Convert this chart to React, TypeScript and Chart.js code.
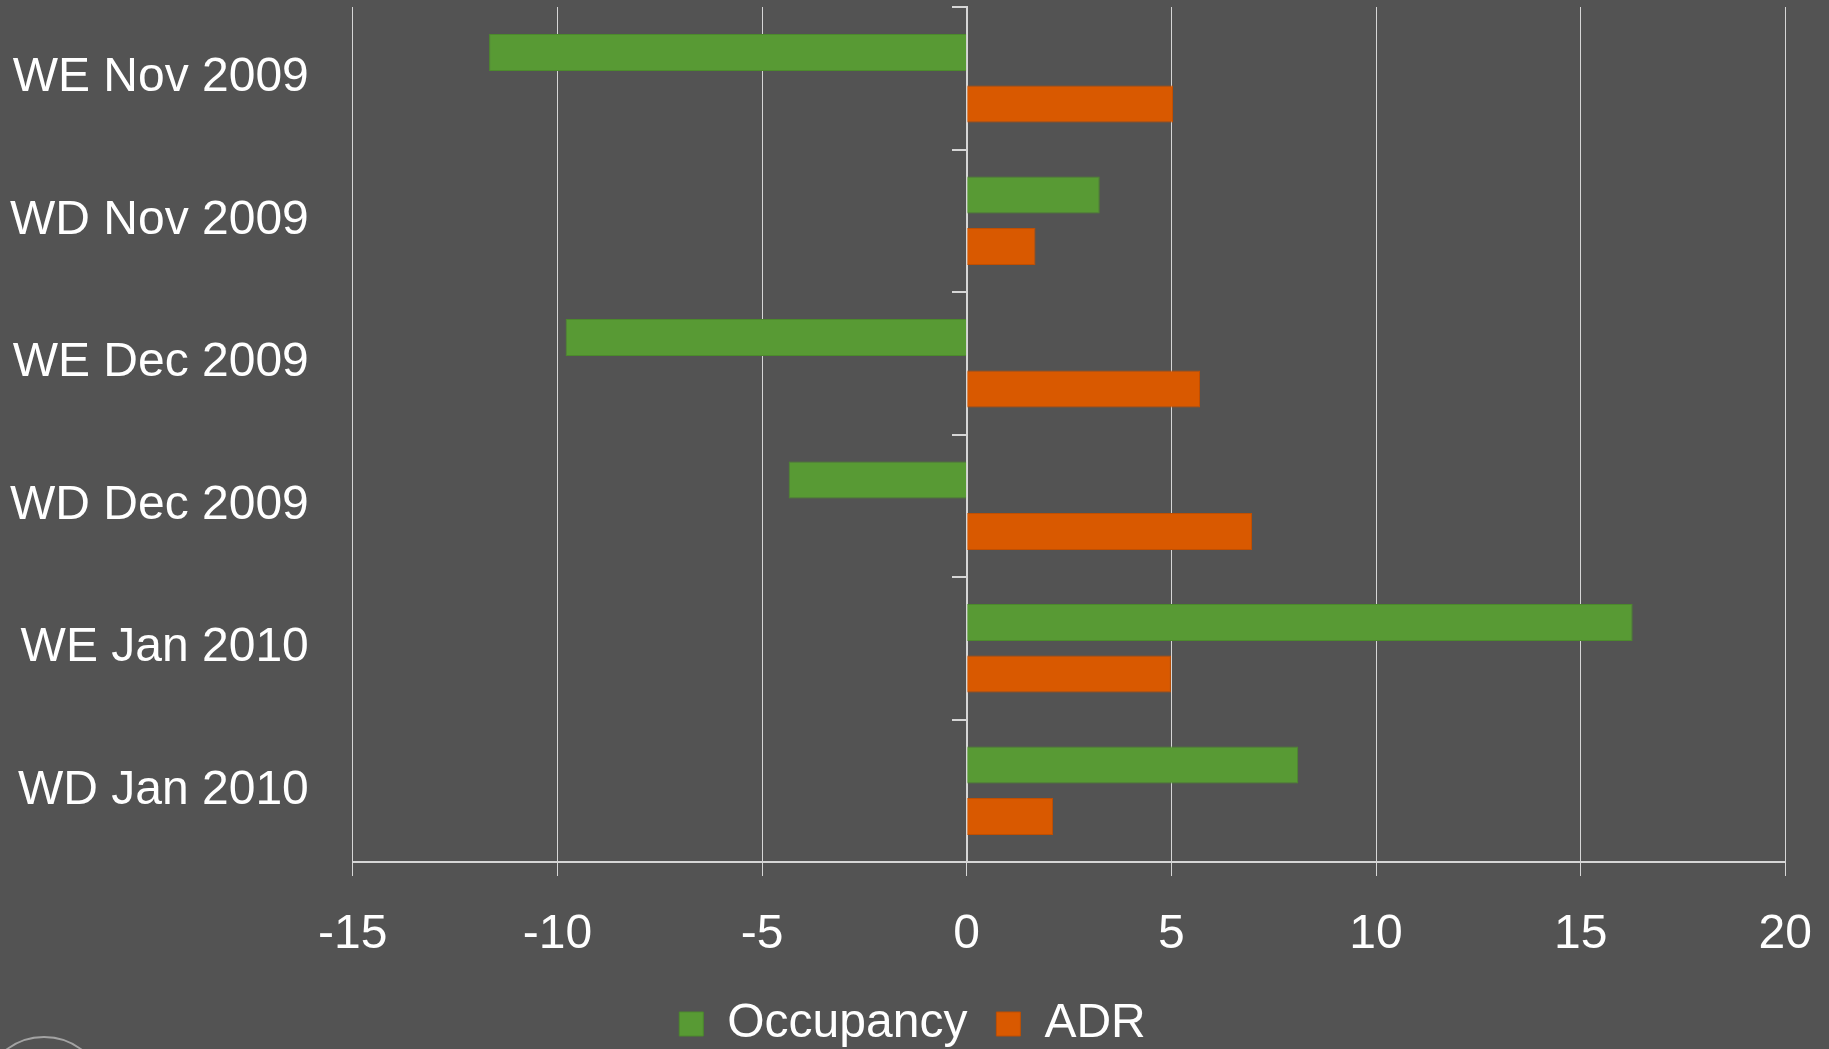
import React, { useEffect, useRef } from "react";
import { Chart, registerables } from "chart.js";

Chart.register(...registerables);

const categories = [
  "WE Nov 2009",
  "WD Nov 2009",
  "WE Dec 2009",
  "WD Dec 2009",
  "WE Jan 2010",
  "WD Jan 2010",
];
const occupancy = [-11.67, 3.25, -9.8, -4.35, 16.27, 8.1];
const adr = [5.04, 1.68, 5.7, 6.97, 4.99, 2.11];
const xMin = -15;
const xMax = 20;
const xStep = 5;

const FONT = '"Liberation Sans", Arial, sans-serif';
const BG = "#535353";
const GRID = "#d6d6d6";

const arcPlugin = {
  id: "cornerArc",
  afterDraw(chart: any) {
    const ctx = chart.ctx;
    ctx.save();
    ctx.strokeStyle = "rgba(190,190,190,0.75)";
    ctx.lineWidth = 2;
    ctx.beginPath();
    ctx.arc(44, 1099, 62, Math.PI, 2 * Math.PI);
    ctx.stroke();
    ctx.restore();
  },
};

export default function App() {
  const ref = useRef<HTMLCanvasElement | null>(null);
  useEffect(() => {
    if (!ref.current) return;
    const chart = new Chart(ref.current, {
      type: "bar",
      data: {
        labels: categories,
        datasets: [
          {
            label: "Occupancy",
            data: occupancy,
            backgroundColor: "#589a34",
            borderColor: "#4c8a2c",
            borderWidth: 1,
            categoryPercentage: 0.722,
            barPercentage: 0.72,
          },
          {
            label: "ADR",
            data: adr,
            backgroundColor: "#d95900",
            borderColor: "#c04f02",
            borderWidth: 1,
            categoryPercentage: 0.722,
            barPercentage: 0.72,
          },
        ],
      },
      options: {
        indexAxis: "y",
        responsive: false,
        animation: false,
        layout: { padding: { left: 10, right: 14, top: 7, bottom: -9 } },
        plugins: {
          tooltip: { enabled: false },
          legend: {
            position: "bottom",
            labels: {
              color: "#ffffff",
              font: { family: FONT, size: 48 },
              boxWidth: 24,
              boxHeight: 24,
              padding: 29,
            },
          },
        },
        scales: {
          x: {
            min: xMin,
            max: xMax,
            ticks: {
              stepSize: xStep,
              color: "#ffffff",
              font: { family: FONT, size: 48, lineHeight: 1.75 },
              padding: 17,
            },
            grid: { color: GRID, lineWidth: 1, tickLength: 14 },
            border: { display: true, color: GRID, width: 2 },
            afterFit(scale: any) {
              scale.height = 109;
            },
          },
          y: {
            position: "left",
            offset: true,
            ticks: {
              color: "#ffffff",
              font: { family: FONT, size: 48, lineHeight: 0.25 },
              padding: 0,
            },
            grid: { display: false, drawTicks: true, tickLength: 44 },
            border: { display: false },
          },
          y2: {
            type: "category",
            position: { x: 0 },
            offset: true,
            ticks: { display: false },
            grid: {
              display: true,
              drawOnChartArea: false,
              offset: true,
              tickLength: 14,
              color: GRID,
              lineWidth: 2,
            },
            border: { display: true, color: GRID, width: 2 },
          },
        },
      } as any,
      plugins: [arcPlugin],
    });
    return () => chart.destroy();
  }, []);
  return (
    <div
      style={{
        position: "fixed",
        left: 0,
        top: 0,
        width: 1829,
        height: 1049,
        background: BG,
        overflow: "hidden",
      }}
    >
      <canvas ref={ref} width={1829} height={1049} style={{ display: "block" }} />
    </div>
  );
}
